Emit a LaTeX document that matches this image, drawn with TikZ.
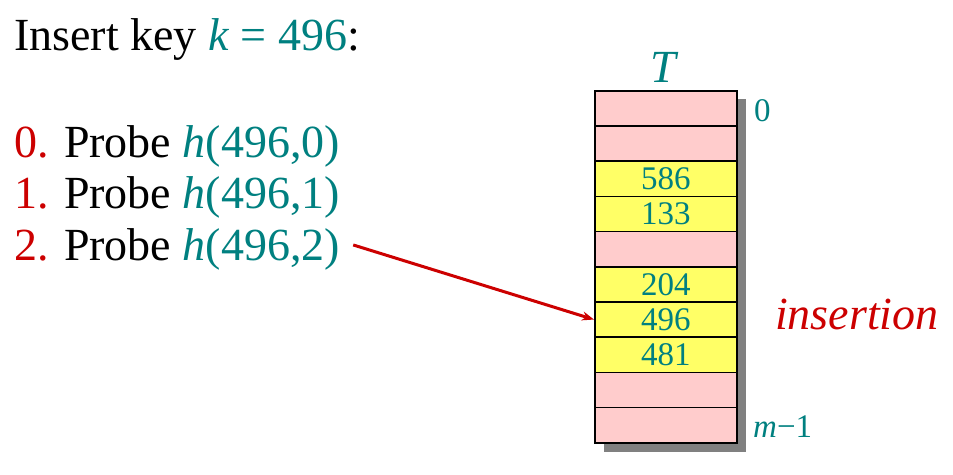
\documentclass[tikz,border=0pt]{standalone}
\usepackage{fontspec}
\setmainfont{Liberation Serif}
\usetikzlibrary{arrows.meta}
\definecolor{teal}{RGB}{0,128,128}
\definecolor{dred}{RGB}{204,0,0}
\definecolor{pinkc}{RGB}{255,204,204}
\definecolor{yellc}{RGB}{255,255,102}
\definecolor{shadowc}{RGB}{128,128,128}
\tikzset{
  bigtext/.style={font=\fontsize{46}{50}\selectfont, inner sep=0pt},
  numtext/.style={font=\fontsize{33}{36}\selectfont, text=teal, inner sep=0pt},
  cell/.style={draw=black, line width=1.5pt, minimum width=142pt, minimum height=35.2pt, inner sep=0pt, anchor=north west, font=\fontsize{33}{36}\selectfont, text=teal},
  emptycell/.style={cell, fill=pinkc},
  fullcell/.style={cell, fill=yellc},
  probearrow/.style={draw=dred, line width=3pt, -{Stealth[length=12pt,width=9pt]}},
}
\begin{document}
\begin{tikzpicture}[x=1pt,y=1pt]
\useasboundingbox (0,0) rectangle (953,-474);
% shadow
\fill[shadowc] (604,-99) rectangle (746,-452);
% table cells
\node[emptycell] (r0) at (594,-90) {};
\node[emptycell] (r1) at (594,-125.2) {};
\node[fullcell]  (r2) at (594,-160.4) {586};
\node[fullcell]  (r3) at (594,-195.6) {133};
\node[emptycell] (r4) at (594,-230.8) {};
\node[fullcell]  (r5) at (594,-266.0) {204};
\node[fullcell]  (r6) at (594,-301.2) {496};
\node[fullcell]  (r7) at (594,-336.4) {481};
\node[emptycell] (r8) at (594,-371.6) {};
\node[emptycell] (r9) at (594,-406.8) {};
% labels
\node[bigtext, text=teal, anchor=base] (tlabel) at (665,-82) {\textit{T}};
\node[numtext, anchor=base west] (zero) at (754,-121) {0};
\node[numtext, anchor=base west] (mlast) at (753,-437) {\textit{m}−1};
\node[bigtext, text=dred, anchor=base west] (ins) at (775,-329) {\textit{insertion}};
% left text
\node[bigtext, anchor=base west] (title) at (14,-50) {Insert key \textcolor{teal}{\textit{k} = 496}:};
\node[bigtext, anchor=base west] (p0) at (14,-157) {\textcolor{dred}{0.} Probe \textcolor{teal}{\textit{h}(496,0)}};
\node[bigtext, anchor=base west] (p1) at (14,-208) {\textcolor{dred}{1.} Probe \textcolor{teal}{\textit{h}(496,1)}};
\node[bigtext, anchor=base west] (p2) at (14,-260) {\textcolor{dred}{2.} Probe \textcolor{teal}{\textit{h}(496,2)}};
% arrow
\draw[probearrow] ([xshift=13pt,yshift=4pt]p2.east) -- (r6.west);
\end{tikzpicture}
\end{document}
